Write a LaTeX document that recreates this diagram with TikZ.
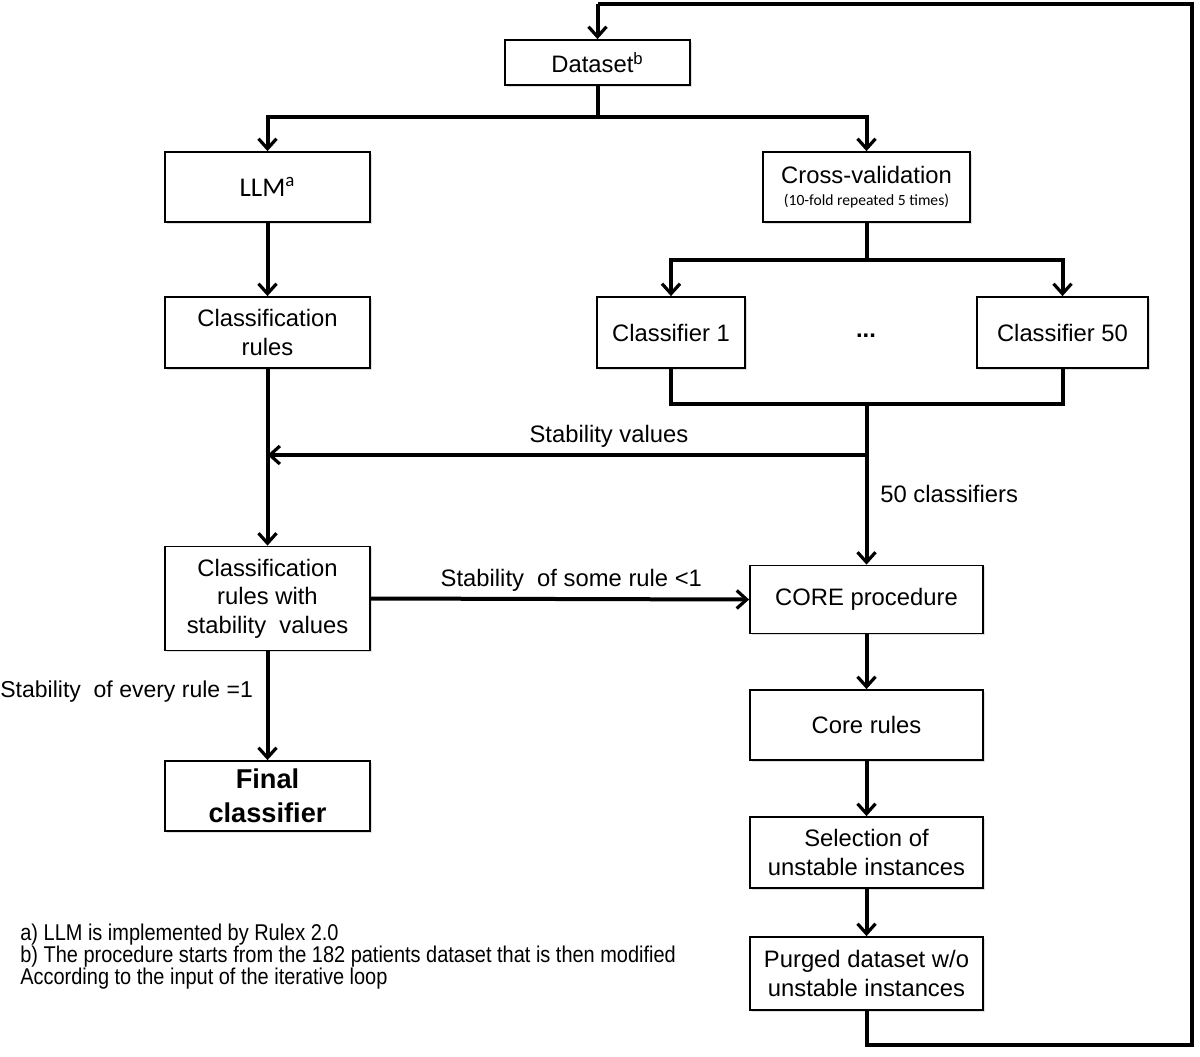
\documentclass[tikz,border=0pt]{standalone}
\usepackage{fontspec}
\setmainfont{Liberation Sans}
\newfontfamily\calib{Carlito}
\usetikzlibrary{arrows.meta,shadows}
\begin{document}
\begin{tikzpicture}[x=0.5pt,y=-0.5pt,
  every node/.style={font=\fontsize{11.9pt}{14.2pt}\selectfont},
  box/.style={draw, line width=0.9pt, fill=white, align=center, inner sep=2pt,
    drop shadow={opacity=0.25, shadow xshift=0.8pt, shadow yshift=-0.8pt}},
  conn/.style={line width=2pt},
  arr/.style={conn, -{Straight Barb[length=5pt,width=9pt,line width=1.6pt]}},
  lbl/.style={inner sep=0pt},
  foot/.style={inner sep=0pt, anchor=west, font=\fontsize{11.4pt}{13pt}\selectfont}
]
\useasboundingbox (0,0) rectangle (1200,1056);

% boxes
\node[box, minimum width=92.5pt, minimum height=22.5pt] (ds) at (597.5,62.5) {Dataset\textsuperscript{b}};
\node[box, minimum width=102.5pt, minimum height=35pt, font=\calib\fontsize{13.5pt}{15pt}\selectfont] (llm) at (267.5,187) {LLM\textsuperscript{a}};
\node[box, minimum width=103.5pt, minimum height=35pt] (cv) at (866.5,187) {Cross-validation\\[-3pt]{\calib\fontsize{7.8pt}{9pt}\selectfont (10-fold repeated 5 times)}};
\node[box, minimum width=102.5pt, minimum height=35.5pt] (cr) at (267.5,332.5) {Classification\\rules};
\node[box, minimum width=74pt, minimum height=35.5pt] (c1) at (671,332.5) {Classifier 1};
\node[lbl] (dots) at (866,336) {\textbf{...}};
\node[box, minimum width=85.5pt, minimum height=35.5pt] (c50) at (1062.5,332.5) {Classifier 50};
\node[box, minimum width=102.5pt, minimum height=52pt] (crs) at (267.5,598.5) {Classification\\rules with\\stability\ \ values};
\node[box, minimum width=102.5pt, minimum height=35pt, font=\bfseries\fontsize{13.6pt}{17pt}\selectfont] (fin) at (267.5,796) {Final\\classifier};
\node[box, minimum width=116.5pt, minimum height=34pt] (core) at (866.5,599.5) {CORE procedure};
\node[box, minimum width=116.5pt, minimum height=35pt] (cru) at (866.5,725) {Core rules};
\node[box, minimum width=116.5pt, minimum height=35.5pt] (sel) at (866.5,852.5) {Selection of\\unstable instances};
\node[box, minimum width=116.5pt, minimum height=36.5pt] (pur) at (866.5,973.5) {Purged dataset w/o\\unstable instances};

% junctions
\coordinate (j1) at (597.5,117);
\coordinate (j2) at (866.5,260);
\coordinate (j3) at (866.5,404);
\coordinate (j4) at (866.5,455);
\coordinate (lb) at (866.5,1045);
\coordinate (rb) at (1192,1045);
\coordinate (rt) at (1192,4);
\coordinate (dt) at (597.5,4);

% connectors
\draw[conn] (ds.south) -- (j1);
\draw[arr] (j1) -| (llm.north);
\draw[arr] (j1) -| (cv.north);
\draw[arr] (llm.south) -- (cr.north);
\draw[conn] (cv.south) -- (j2);
\draw[arr] (j2) -| (c1.north);
\draw[arr] (j2) -| (c50.north);
\draw[conn] (c1.south) |- (j3);
\draw[conn] (c50.south) |- (j3);
\draw[arr] (j3) -- (core.north);
\draw[arr] (j4) -- node[lbl, above=3pt, pos=0.43] {Stability values} (cr.south |- j4);
\draw[arr] (cr.south) -- (crs.north);
\draw[arr] (crs.east) -- node[lbl, above=3pt, pos=0.53] {Stability\ \ of some rule <1} (core.west);
\draw[arr] (crs.south) -- (fin.north);
\node[lbl, anchor=west, font=\fontsize{11.5pt}{14pt}\selectfont] (every) at (0,692) {Stability\ \ of every rule =1};
\node[lbl, anchor=west] (fifty) at (880,494) {50 classifiers};
\draw[arr] (core.south) -- (cru.north);
\draw[arr] (cru.south) -- (sel.north);
\draw[arr] (sel.south) -- (pur.north);
\draw[conn] (pur.south) -- (lb) -- (rb) -- (rt) -- (dt);
\draw[arr] (dt) -- (ds.north);

% footnotes
\node[foot] (fa) at (20,935) {\scalebox{0.875}[1]{a) LLM is implemented by Rulex 2.0}};
\node[foot] (fb) at (20,957) {\scalebox{0.875}[1]{b) The procedure starts from the 182 patients dataset that is then modified}};
\node[foot] (fc) at (20,979) {\scalebox{0.875}[1]{According to the input of the iterative loop}};
\end{tikzpicture}
\end{document}
